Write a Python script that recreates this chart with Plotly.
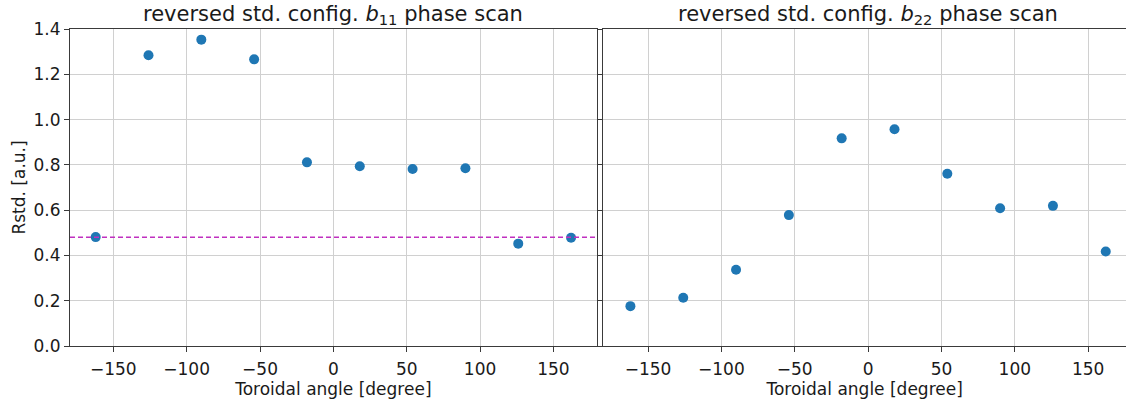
import plotly.graph_objects as go

# ---- data ----
angles = [-162, -126, -90, -54, -18, 18, 54, 90, 126, 162]
b11_rstd = [0.481, 1.284, 1.353, 1.266, 0.811, 0.794, 0.782, 0.785, 0.452, 0.478]
b22_rstd = [0.176, 0.213, 0.337, 0.578, 0.917, 0.957, 0.761, 0.608, 0.619, 0.417]
reference_level = 0.48

left_title = "reversed std. config. <i>b</i><sub>11</sub> phase scan"
right_title = "reversed std. config. <i>b</i><sub>22</sub> phase scan"
x_label = "Toroidal angle [degree]"
y_label = "Rstd. [a.u.]"
x_ticks = [-150, -100, -50, 0, 50, 100, 150]
x_ticktext = ["\u2212150", "\u2212100", "\u221250", "0", "50", "100", "150"]
y_ticks = [0.0, 0.2, 0.4, 0.6, 0.8, 1.0, 1.2, 1.4]
y_ticktext = ["0.0", "0.2", "0.4", "0.6", "0.8", "1.0", "1.2", "1.4"]

FONT = "DejaVu Sans"
TXT = "#1a1a1a"
BLUE = "#1f77b4"
GRID = "#d0d0d0"
AX = "#3a3a3a"

fig = go.Figure()
fig.add_trace(go.Scatter(x=angles, y=b11_rstd, mode="markers",
                         marker=dict(color=BLUE, size=10, line=dict(width=0)),
                         xaxis="x", yaxis="y", showlegend=False))
fig.add_trace(go.Scatter(x=angles, y=b22_rstd, mode="markers",
                         marker=dict(color=BLUE, size=10, line=dict(width=0)),
                         xaxis="x2", yaxis="y2", showlegend=False))

common_x = dict(tickmode="array", tickvals=x_ticks, ticktext=x_ticktext,
                showgrid=True, gridcolor=GRID, gridwidth=1, zeroline=False,
                showline=True, linecolor=AX, linewidth=1, mirror=True,
                ticks="outside", ticklen=5, tickcolor=AX, tickwidth=1,
                ticklabelstandoff=3,
                tickfont=dict(family=FONT, size=17, color=TXT),
                title=dict(text=x_label, font=dict(family=FONT, size=17, color=TXT), standoff=0))
common_y = dict(range=[0, 1.4], tickmode="array", tickvals=y_ticks, ticktext=y_ticktext,
                showgrid=True, gridcolor=GRID, gridwidth=1, zeroline=False,
                showline=True, linecolor=AX, linewidth=1,
                ticks="outside", ticklen=5, tickcolor=AX, tickwidth=1,
                tickfont=dict(family=FONT, size=17, color=TXT))

fig.update_layout(
    width=1126, height=399,
    margin=dict(l=70, r=0, t=29, b=53),
    paper_bgcolor="white", plot_bgcolor="white",
    font=dict(family=FONT, color=TXT),
    xaxis=dict(domain=[0, 0.4988], range=[-179.5, 179.5], anchor="y", **common_x),
    xaxis2=dict(domain=[0.505, 1], range=[-180.5, 175.8], anchor="y2", **common_x),
    yaxis=dict(anchor="x", mirror=True,
               title=dict(text=y_label, font=dict(family=FONT, size=17, color=TXT), standoff=3),
               **common_y),
    yaxis2=dict(anchor="x2", matches="y", showticklabels=False, mirror=False, **common_y),
)

fig.add_shape(type="line", xref="x domain", x0=0, x1=1, yref="y",
              y0=reference_level, y1=reference_level,
              line=dict(color="#c030c0", width=1.5, dash="5px,3px"), layer="above")

fig.add_annotation(text=left_title, xref="x", x=0, yref="paper", y=1, yanchor="bottom",
                   yshift=-1, showarrow=False, font=dict(family=FONT, size=21, color=TXT))
fig.add_annotation(text=right_title, xref="x2", x=0, yref="paper", y=1, yanchor="bottom",
                   yshift=-1, showarrow=False, font=dict(family=FONT, size=21, color=TXT))

fig.write_html("out.html")
